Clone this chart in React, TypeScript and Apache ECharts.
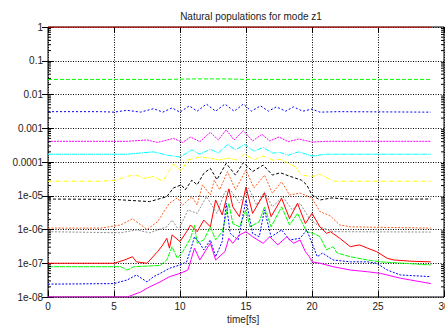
import React, { useEffect, useRef } from "react";
import * as echarts from "echarts";

type P = [number, number][];

const titleText = "Natural populations for mode z1";
const xName = "time[fs]";
const xTicks = [0, 5, 10, 15, 20, 25, 30];

const popA: P = [[0, 1], [29, 1]];
const popB: P = [[0, 0.028], [9, 0.028], [11, 0.029], [13.5, 0.029], [15, 0.028], [29, 0.028]];
const popC: P = [[0, 3.1e-3], [4, 3.1e-3], [5, 3.0e-3], [6, 3.4e-3], [7, 3.0e-3], [8, 3.8e-3], [8.7, 3.0e-3], [9.4, 4.0e-3], [10, 3.0e-3], [10.7, 4.6e-3], [11.3, 3.2e-3], [12, 5.2e-3], [12.7, 3.2e-3], [13.4, 5.2e-3], [14.1, 3.2e-3], [14.8, 5.2e-3], [15.4, 3.2e-3], [16.1, 4.6e-3], [16.7, 3.2e-3], [17.3, 4.3e-3], [18, 3.2e-3], [18.6, 4.3e-3], [19.3, 3.2e-3], [20, 3.7e-3], [20.6, 3.0e-3], [22, 3.1e-3], [29, 3.0e-3]];
const popD: P = [[0, 4.1e-4], [6, 4.1e-4], [7.5, 4.5e-4], [8.3, 3.8e-4], [9.5, 5e-4], [10.2, 3.8e-4], [10.8, 5.5e-4], [11.5, 4.0e-4], [12.3, 7.6e-4], [12.9, 4.5e-4], [13.5, 9.0e-4], [14.1, 4.5e-4], [14.8, 8.5e-4], [15.5, 4.2e-4], [16.2, 6.6e-4], [16.8, 4.2e-4], [17.5, 5.5e-4], [18.2, 4.0e-4], [19, 4.8e-4], [20, 3.9e-4], [21, 4.1e-4], [29, 4.1e-4]];
const popE: P = [[0, 1.7e-4], [6, 1.7e-4], [7, 1.85e-4], [8, 2.0e-4], [9, 1.6e-4], [10, 1.4e-4], [10.9, 2.3e-4], [11.5, 1.7e-4], [12.3, 2.4e-4], [12.9, 1.85e-4], [13.6, 3.3e-4], [14.2, 2.3e-4], [14.9, 3.3e-4], [15.6, 2.1e-4], [16.3, 2.7e-4], [17, 1.85e-4], [17.6, 1.9e-4], [18.2, 1.6e-4], [19, 2.0e-4], [20, 1.5e-4], [21, 1.7e-4], [29, 1.7e-4]];
const popF: P = [[0, 2.7e-5], [4, 2.7e-5], [5.2, 2.9e-5], [6, 3.8e-5], [6.7, 4.1e-5], [7.3, 3.3e-5], [8, 3.7e-5], [8.7, 2.7e-5], [9.5, 8.7e-5], [10.1, 5.5e-5], [10.6, 1.15e-4], [11.5, 1.4e-4], [12.3, 1.3e-4], [13, 1.15e-4], [13.7, 1.3e-4], [14.3, 1.15e-4], [14.9, 1.7e-4], [15.6, 1.15e-4], [16.3, 1.5e-4], [17, 1.15e-4], [17.6, 1.2e-4], [18.2, 9.3e-5], [18.7, 7.3e-5], [19.2, 4.1e-5], [20, 3.7e-5], [20.6, 4.4e-5], [21.6, 2.7e-5], [29, 2.7e-5]];
const popG: P = [[0, 8e-6], [5, 7.8e-6], [7.7, 6.7e-6], [9, 9.4e-6], [9.5, 1.7e-5], [10.1, 2.1e-5], [10.4, 1.5e-5], [10.9, 2.9e-5], [11.3, 2.1e-5], [11.8, 4.6e-5], [12.3, 6.5e-5], [12.8, 3e-5], [13.5, 9.1e-5], [14.2, 4.1e-5], [14.8, 9.6e-5], [15.5, 5.2e-5], [16.3, 8.1e-5], [17, 4.1e-5], [17.6, 4.8e-5], [18.3, 3.8e-5], [19.2, 2.9e-5], [19.6, 2.1e-5], [20, 1.05e-5], [20.6, 7.5e-6], [21.5, 8.6e-6], [23, 7.8e-6], [29, 8e-6]];
const popH: P = [[0, 1.1e-6], [4, 1.1e-6], [5.5, 1.36e-6], [6.4, 2.1e-6], [7.5, 1.0e-6], [8.3, 1.7e-6], [9.2, 6e-6], [9.8, 8.6e-6], [10.2, 5.3e-6], [10.9, 9.4e-6], [11.3, 5.3e-6], [11.7, 2.1e-5], [12.3, 1.05e-5], [12.6, 2.9e-5], [13, 1.5e-5], [13.6, 5.2e-5], [14.2, 1.5e-5], [15, 5.8e-5], [15.6, 1.7e-5], [16.4, 4.1e-5], [17, 1.2e-5], [17.7, 2.6e-5], [18.3, 1.05e-5], [19.1, 1.2e-5], [20, 8.6e-6], [20.6, 3.4e-6], [21.4, 2.5e-6], [22.1, 1.36e-6], [22.9, 1.2e-6], [29, 1.1e-6]];
const popI: P = [[0, 8.6e-7], [5.5, 8.0e-7], [6.7, 9.7e-7], [7.7, 8.0e-7], [9, 1.2e-6], [9.4, 1.9e-6], [9.9, 9.7e-7], [10.6, 3.8e-6], [11.3, 3e-6], [12, 9.4e-6], [12.8, 3e-6], [13.4, 1.3e-5], [13.8, 1.5e-5], [14.5, 6.1e-6], [15.2, 1.7e-5], [15.8, 5.3e-6], [16.4, 1.3e-5], [17, 4.7e-6], [17.8, 9.4e-6], [18.5, 3.8e-6], [19.1, 6e-6], [19.8, 2.1e-6], [20.6, 1.2e-6], [21.6, 8.6e-7], [29, 8.4e-7]];
const popJ: P = [[0, 1e-7], [5, 1e-7], [5.8, 1.25e-7], [6.4, 1.56e-7], [6.7, 1.1e-7], [7.5, 1e-7], [8.3, 2.2e-7], [8.7, 3.5e-7], [9, 5.5e-7], [9.2, 2.8e-7], [9.4, 6.9e-7], [10, 4.4e-7], [10.5, 8.6e-7], [10.8, 1.36e-6], [11.3, 8.6e-7], [11.8, 1.9e-6], [12.3, 1.2e-6], [12.7, 7.5e-6], [13.2, 2.7e-6], [13.7, 1.6e-5], [14, 4.7e-6], [14.5, 2.4e-6], [15, 1.8e-5], [15.5, 3e-6], [16.4, 1.2e-5], [16.9, 2.4e-6], [17.7, 8.4e-6], [18.3, 2.1e-6], [18.9, 6e-6], [19.5, 1.5e-6], [20, 3e-6], [20.6, 1.2e-6], [21.1, 7.7e-7], [21.4, 8.6e-7], [22.1, 5.5e-7], [22.9, 3.1e-7], [23.6, 3.5e-7], [24.2, 2.8e-7], [24.9, 2.2e-7], [25.7, 1.4e-7], [26.2, 1.25e-7], [27.5, 1.15e-7], [29, 1.1e-7]];
const popK: P = [[0, 7.9e-8], [5.5, 7.9e-8], [6, 6.3e-8], [6.5, 7.9e-8], [8.5, 8.6e-8], [9, 1.25e-7], [9.4, 3.1e-7], [9.8, 1.4e-7], [10.2, 2.2e-7], [10.8, 5.5e-7], [11.1, 1.36e-6], [11.3, 3.9e-7], [11.8, 4.9e-7], [12.3, 1.2e-6], [12.7, 4.9e-7], [13.2, 8.6e-7], [13.7, 6e-6], [14, 1.5e-6], [14.5, 1.2e-6], [15, 3.8e-6], [15.3, 1.2e-6], [16, 1.7e-6], [16.4, 4.7e-6], [16.9, 1.2e-6], [17.7, 4.7e-6], [18.3, 1.36e-6], [18.9, 3e-6], [19.6, 8.6e-7], [20.1, 7.7e-7], [20.6, 6.1e-7], [21.1, 2.5e-7], [21.6, 3.1e-7], [21.9, 2e-7], [22.9, 1.56e-7], [24.2, 1.25e-7], [25.2, 1.1e-7], [29, 8.9e-8]];
const popL: P = [[0, 2.4e-8], [5, 2.5e-8], [6, 3.2e-8], [6.7, 4.5e-8], [7.5, 2.8e-8], [8, 4e-8], [8.5, 5e-8], [9.2, 7.1e-8], [10, 8.9e-8], [10.5, 1.1e-7], [10.8, 2.5e-7], [11.1, 6.1e-7], [11.5, 3.9e-7], [11.8, 2.5e-7], [12.3, 4.9e-7], [12.7, 1.56e-7], [13.2, 4.4e-7], [13.5, 6e-6], [13.8, 7.7e-7], [14.4, 4.9e-7], [15, 7.5e-6], [15.5, 7.7e-7], [16, 6.1e-7], [16.4, 3.8e-6], [16.9, 6.1e-7], [17.7, 9.7e-7], [18.3, 4.9e-7], [19.1, 5.5e-7], [19.6, 9.7e-7], [20, 3.9e-7], [20.4, 1.56e-7], [20.8, 2e-7], [21.6, 1.25e-7], [22.9, 1.1e-7], [24.2, 1.1e-7], [24.9, 1e-7], [25.7, 6.3e-8], [26.7, 4.5e-8], [29, 4e-8]];
const popM: P = [[0, 1e-8], [6, 1e-8], [7, 1.4e-8], [7.7, 2e-8], [8.5, 2.8e-8], [9.2, 4e-8], [10, 5e-8], [10.6, 6.3e-8], [11.1, 2.8e-7], [11.5, 1.25e-7], [12.3, 4e-7], [12.7, 1.25e-7], [13.4, 2.2e-7], [13.7, 5.5e-7], [14, 3.9e-7], [14.5, 6.9e-7], [15, 8.6e-7], [15.5, 6.1e-7], [16.3, 3.9e-7], [16.8, 6.1e-7], [17.4, 3.5e-7], [18.1, 6.1e-7], [18.6, 3.9e-7], [19.1, 4.9e-7], [19.5, 2.2e-7], [19.8, 1.56e-7], [20, 1.1e-7], [20.6, 1e-7], [21.6, 7.9e-8], [22.9, 6.3e-8], [24.2, 5.6e-8], [25.2, 5e-8], [26.7, 3.6e-8], [29, 2.5e-8]];

const seriesData: P[] = [popA, popB, popC, popD, popE, popF, popG, popH, popI, popJ, popK, popL, popM];
const seriesColors = ["#ff0000", "#00ff00", "#0000ff", "#ff00ff", "#00ffff", "#ffff00", "#000000", "#ff6020", "#909090", "#ff0000", "#00ff00", "#0000ff", "#ff00ff"];
const seriesDash: (number[] | "solid")[] = ["solid", [4, 2], [2, 2], [2, 1], [5, 1, 1, 1], [4, 1.5, 1, 1.5], [3, 2], [2, 1.5], [2, 1.5], "solid", [5, 1], [2, 1.5], "solid"];

const minorTickValues: number[] = [];
for (let e = -8; e < 0; e++) for (let k = 2; k <= 9; k++) minorTickValues.push(k * Math.pow(10, e));

const FONT = "'Liberation Sans', Arial, sans-serif";

function fmtLog(v: number): string {
  const e = Math.round(Math.log10(v));
  if (e === 0) return "1";
  if (e >= -4) return "0." + "0".repeat(-e - 1) + "1";
  return "1e-0" + -e;
}

export default function App() {
  const ref = useRef<HTMLDivElement>(null);
  useEffect(() => {
    if (!ref.current) return;
    const chart = echarts.init(ref.current, null, { renderer: "svg" });
    const tickStyle = { show: true, inside: true, length: 6, lineStyle: { color: "#000", width: 1 } };
    const series: any[] = seriesData.map((d, i) => ({
      type: "line",
      data: d,
      showSymbol: false,
      symbol: "none",
      xAxisIndex: 0,
      yAxisIndex: 0,
      lineStyle: { color: seriesColors[i], width: 1, type: seriesDash[i] },
      z: 3 + i * 0.01,
      silent: true,
    }));
    series.push({
      type: "custom",
      xAxisIndex: 0,
      yAxisIndex: 0,
      silent: true,
      z: 10,
      clip: false,
      data: minorTickValues.map((v) => [0, v]),
      renderItem: (params: any, api: any) => {
        const cs = params.coordSys;
        const y = api.coord([0, api.value(1)])[1];
        return {
          type: "group",
          children: [
            { type: "line", shape: { x1: cs.x, y1: y, x2: cs.x + 3, y2: y }, style: { stroke: "#000", lineWidth: 1 } },
            { type: "line", shape: { x1: cs.x + cs.width - 3, y1: y, x2: cs.x + cs.width, y2: y }, style: { stroke: "#000", lineWidth: 1 } },
          ],
        };
      },
    });
    chart.setOption({
      animation: false,
      backgroundColor: "#fff",
      title: {
        text: titleText,
        left: 246,
        top: 6,
        textAlign: "center",
        textStyle: { fontFamily: FONT, fontSize: 10, fontWeight: "normal", color: "#222" },
      },
      graphic: [
        {
          type: "text",
          left: 227,
          top: 314,
          style: { text: xName, fontFamily: FONT, fontSize: 10, fill: "#222" },
        },
      ],
      grid: { left: 48, right: 1, top: 27, bottom: 28, show: true, borderColor: "#000", borderWidth: 1, backgroundColor: "transparent", containLabel: false, outerBoundsMode: "none" },
      xAxis: [
        {
          type: "value",
          min: xTicks[0],
          max: xTicks[xTicks.length - 1],
          interval: 5,
          position: "bottom",
          axisLine: { show: false },
          axisTick: tickStyle,
          axisLabel: { fontFamily: FONT, fontSize: 10, color: "#222", margin: 4 },
          splitLine: { show: true, lineStyle: { color: "#000", width: 1, type: [1, 1.5] } },
        },
        {
          type: "value",
          min: xTicks[0],
          max: xTicks[xTicks.length - 1],
          interval: 5,
          position: "top",
          axisLine: { show: false },
          axisTick: tickStyle,
          axisLabel: { show: false },
          splitLine: { show: false },
        },
      ],
      yAxis: [
        {
          type: "log",
          logBase: 10,
          min: 1e-8,
          max: 1,
          interval: 1,
          position: "left",
          axisLine: { show: false },
          axisTick: tickStyle,
          axisLabel: { fontFamily: FONT, fontSize: 10, color: "#222", margin: 5, formatter: (v: number) => fmtLog(v) },
          splitLine: { show: true, lineStyle: { color: "#000", width: 1, type: [1, 1.5] } },
        },
        {
          type: "log",
          logBase: 10,
          min: 1e-8,
          max: 1,
          interval: 1,
          position: "right",
          axisLine: { show: false },
          axisTick: tickStyle,
          axisLabel: { show: false },
          splitLine: { show: false },
        },
      ],
      series,
    });
    return () => chart.dispose();
  }, []);
  return <div ref={ref} style={{ position: "fixed", left: 0, top: 0, width: 445, height: 325, background: "#fff" }} />;
}
